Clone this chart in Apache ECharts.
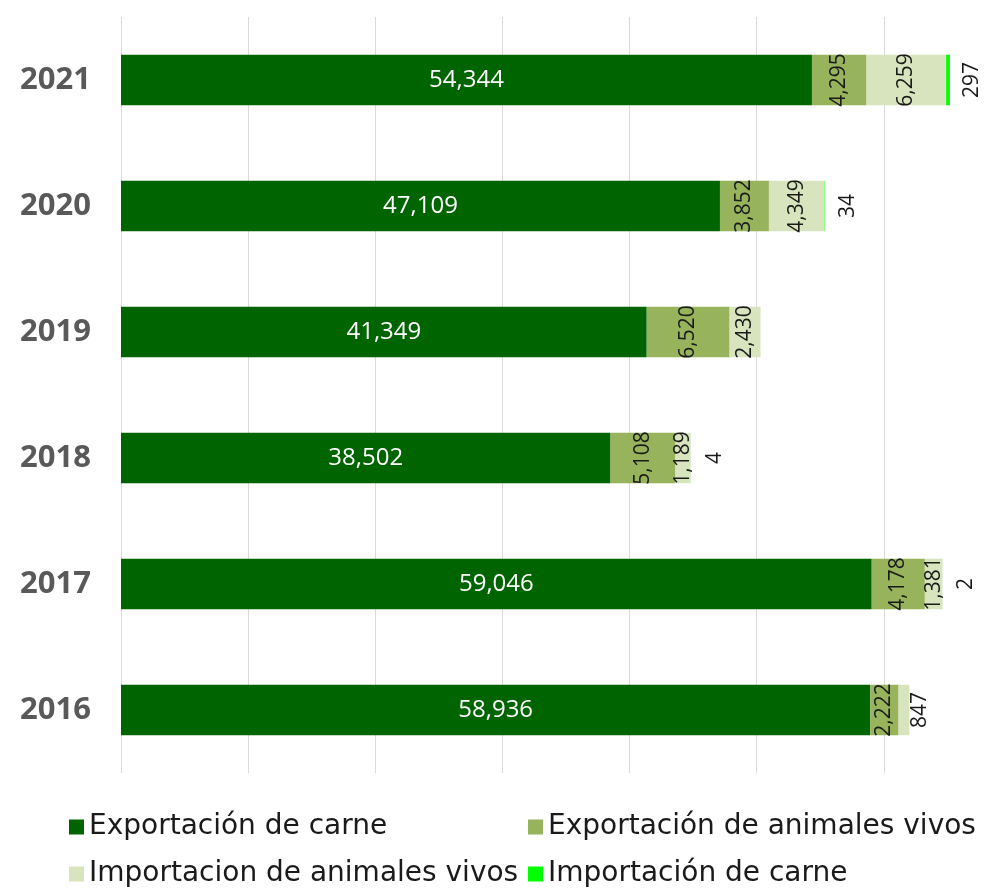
<!DOCTYPE html>
<html>
<head>
<meta charset="utf-8">
<script src="https://cdn.jsdelivr.net/npm/echarts@6/dist/echarts.min.js"></script>
<style>
  html, body { margin: 0; padding: 0; background: #fff; }
  #chart { width: 1004px; height: 889px; }
</style>
</head>
<body>
<div id="chart"></div>
<script>
// años (de abajo hacia arriba)
const years = ["2016", "2017", "2018", "2019", "2020", "2021"];

const exportCarne = [58936, 59046, 38502, 41349, 47109, 54344];
const exportVivos = [2222, 4178, 5108, 6520, 3852, 4295];
const importVivos = [847, 1381, 1189, 2430, 4349, 6259];
const importCarne = [0, 2, 4, 0, 34, 297];

const FONT = "'Open Sans', 'DejaVu Sans', sans-serif";
const LEGEND_FONT = "'DejaVu Sans', sans-serif";
const fmt = (v) => (v ? v.toLocaleString("en-US") : "");

const chart = echarts.init(document.getElementById("chart"));

const rotLabel = {
  show: true,
  position: "inside",
  rotate: 90,
  color: "#1a1a1a",
  fontFamily: FONT,
  fontSize: 21,
  formatter: (p) => fmt(p.value),
};

// 2016: el valor de importacion de animales vivos no cabe, va desplazado
const importVivosData = importVivos.map((v, i) =>
  years[i] === "2016" ? { value: v, label: { offset: [0, 16] } } : v
);

function legendItem(name, left, top) {
  return {
    left: left,
    top: top,
    itemWidth: 15,
    itemHeight: 15,
    icon: "rect",
    textStyle: { fontFamily: LEGEND_FONT, fontSize: 28, color: "#1a1a1a" },
    data: [name],
  };
}

const option = {
  animation: false,
  backgroundColor: "#fff",
  grid: { left: 121, top: 17, width: 890, height: 756, outerBoundsMode: "none" },
  legend: [
    legendItem("Exportación de carne", 64, 808),
    legendItem("Exportación de animales vivos", 523, 808),
    legendItem("Importacion de animales vivos", 64, 855),
    legendItem("Importación de carne", 523, 855),
  ],
  xAxis: {
    type: "value",
    min: 0,
    max: 70000,
    interval: 10000,
    axisLabel: { show: false },
    axisLine: { show: false },
    axisTick: { show: false },
    splitLine: { lineStyle: { color: "#d9d9d9", width: 1 } },
  },
  yAxis: {
    type: "category",
    data: years,
    axisLine: { show: false },
    axisTick: { show: false },
    axisLabel: {
      margin: 30,
      fontFamily: FONT,
      fontSize: 31,
      fontWeight: "bold",
      color: "#595959",
    },
  },
  series: [
    {
      name: "Exportación de carne",
      type: "bar",
      stack: "total",
      barCategoryGap: "60%",
      itemStyle: { color: "#006400" },
      label: {
        show: true,
        position: "inside",
        color: "#ffffff",
        fontFamily: FONT,
        fontSize: 24,
        formatter: (p) => fmt(p.value),
      },
      data: exportCarne,
    },
    {
      name: "Exportación de animales vivos",
      type: "bar",
      stack: "total",
      itemStyle: { color: "#97b35c" },
      label: rotLabel,
      data: exportVivos,
    },
    {
      name: "Importacion de animales vivos",
      type: "bar",
      stack: "total",
      itemStyle: { color: "#d8e4bd" },
      label: rotLabel,
      data: importVivosData,
    },
    {
      name: "Importación de carne",
      type: "bar",
      stack: "total",
      itemStyle: { color: "#00ff00" },
      label: Object.assign({}, rotLabel, { offset: [0, 24] }),
      data: importCarne,
    },
  ],
};

chart.setOption(option);
window.addEventListener("resize", () => chart.resize());
</script>
</body>
</html>
